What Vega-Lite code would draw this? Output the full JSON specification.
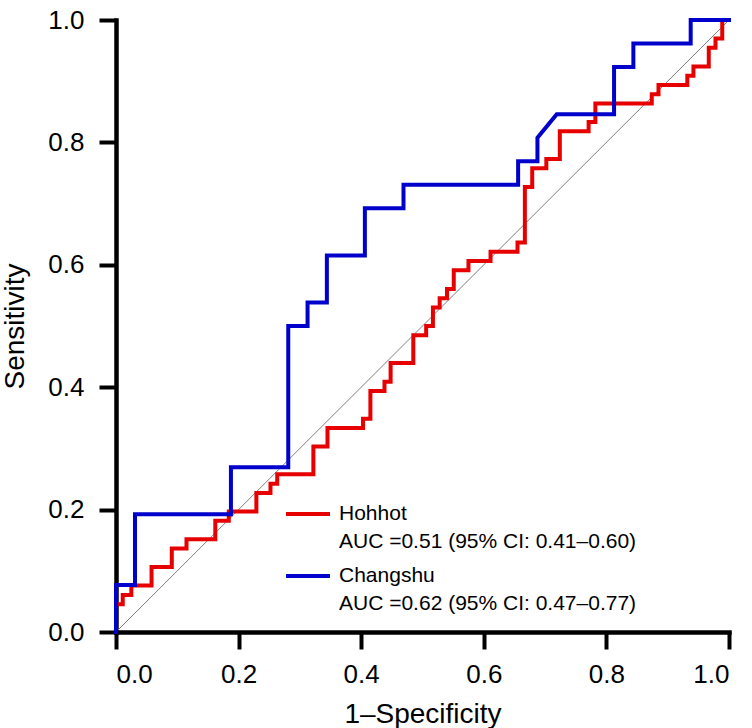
{
  "$schema": "https://vega.github.io/schema/vega-lite/v6.json",
  "width": 613,
  "height": 612,
  "autosize": "none",
  "padding": {"left": 116, "top": 20, "right": 23, "bottom": 96},
  "background": "white",
  "config": {
    "view": {"stroke": null},
    "font": "Liberation Sans",
    "axis": {
      "grid": false,
      "domainColor": "black",
      "domainWidth": 4.5,
      "domainCap": "square",
      "tickColor": "black",
      "tickWidth": 4,
      "tickSize": 17,
      "labelColor": "black",
      "labelFontSize": 26,
      "titleColor": "black",
      "titleFontSize": 28,
      "titleFontWeight": "normal"
    }
  },
  "datasets": {
    "roc": [
      {"group": "Hohhot", "i": 1, "x": 0, "y": 0},
      {"group": "Hohhot", "i": 2, "x": 0, "y": 0.0455},
      {"group": "Hohhot", "i": 3, "x": 0.011, "y": 0.0455},
      {"group": "Hohhot", "i": 4, "x": 0.011, "y": 0.0606},
      {"group": "Hohhot", "i": 5, "x": 0.025, "y": 0.0606},
      {"group": "Hohhot", "i": 6, "x": 0.025, "y": 0.0758},
      {"group": "Hohhot", "i": 7, "x": 0.058, "y": 0.0758},
      {"group": "Hohhot", "i": 8, "x": 0.058, "y": 0.1061},
      {"group": "Hohhot", "i": 9, "x": 0.091, "y": 0.1061},
      {"group": "Hohhot", "i": 10, "x": 0.091, "y": 0.1364},
      {"group": "Hohhot", "i": 11, "x": 0.115, "y": 0.1364},
      {"group": "Hohhot", "i": 12, "x": 0.115, "y": 0.1515},
      {"group": "Hohhot", "i": 13, "x": 0.162, "y": 0.1515},
      {"group": "Hohhot", "i": 14, "x": 0.162, "y": 0.1818},
      {"group": "Hohhot", "i": 15, "x": 0.184, "y": 0.1818},
      {"group": "Hohhot", "i": 16, "x": 0.184, "y": 0.197},
      {"group": "Hohhot", "i": 17, "x": 0.229, "y": 0.197},
      {"group": "Hohhot", "i": 18, "x": 0.229, "y": 0.2273},
      {"group": "Hohhot", "i": 19, "x": 0.252, "y": 0.2273},
      {"group": "Hohhot", "i": 20, "x": 0.252, "y": 0.2424},
      {"group": "Hohhot", "i": 21, "x": 0.263, "y": 0.2424},
      {"group": "Hohhot", "i": 22, "x": 0.263, "y": 0.2576},
      {"group": "Hohhot", "i": 23, "x": 0.322, "y": 0.2576},
      {"group": "Hohhot", "i": 24, "x": 0.322, "y": 0.303},
      {"group": "Hohhot", "i": 25, "x": 0.345, "y": 0.303},
      {"group": "Hohhot", "i": 26, "x": 0.345, "y": 0.3333},
      {"group": "Hohhot", "i": 27, "x": 0.403, "y": 0.3333},
      {"group": "Hohhot", "i": 28, "x": 0.403, "y": 0.3485},
      {"group": "Hohhot", "i": 29, "x": 0.415, "y": 0.3485},
      {"group": "Hohhot", "i": 30, "x": 0.415, "y": 0.3939},
      {"group": "Hohhot", "i": 31, "x": 0.438, "y": 0.3939},
      {"group": "Hohhot", "i": 32, "x": 0.438, "y": 0.4091},
      {"group": "Hohhot", "i": 33, "x": 0.448, "y": 0.4091},
      {"group": "Hohhot", "i": 34, "x": 0.448, "y": 0.4394},
      {"group": "Hohhot", "i": 35, "x": 0.485, "y": 0.4394},
      {"group": "Hohhot", "i": 36, "x": 0.485, "y": 0.4848},
      {"group": "Hohhot", "i": 37, "x": 0.506, "y": 0.4848},
      {"group": "Hohhot", "i": 38, "x": 0.506, "y": 0.5},
      {"group": "Hohhot", "i": 39, "x": 0.517, "y": 0.5},
      {"group": "Hohhot", "i": 40, "x": 0.517, "y": 0.5303},
      {"group": "Hohhot", "i": 41, "x": 0.528, "y": 0.5303},
      {"group": "Hohhot", "i": 42, "x": 0.528, "y": 0.5455},
      {"group": "Hohhot", "i": 43, "x": 0.54, "y": 0.5455},
      {"group": "Hohhot", "i": 44, "x": 0.54, "y": 0.5606},
      {"group": "Hohhot", "i": 45, "x": 0.551, "y": 0.5606},
      {"group": "Hohhot", "i": 46, "x": 0.551, "y": 0.5909},
      {"group": "Hohhot", "i": 47, "x": 0.575, "y": 0.5909},
      {"group": "Hohhot", "i": 48, "x": 0.575, "y": 0.6061},
      {"group": "Hohhot", "i": 49, "x": 0.611, "y": 0.6061},
      {"group": "Hohhot", "i": 50, "x": 0.611, "y": 0.6212},
      {"group": "Hohhot", "i": 51, "x": 0.655, "y": 0.6212},
      {"group": "Hohhot", "i": 52, "x": 0.655, "y": 0.6364},
      {"group": "Hohhot", "i": 53, "x": 0.667, "y": 0.6364},
      {"group": "Hohhot", "i": 54, "x": 0.667, "y": 0.7273},
      {"group": "Hohhot", "i": 55, "x": 0.679, "y": 0.7273},
      {"group": "Hohhot", "i": 56, "x": 0.679, "y": 0.7576},
      {"group": "Hohhot", "i": 57, "x": 0.702, "y": 0.7576},
      {"group": "Hohhot", "i": 58, "x": 0.702, "y": 0.7727},
      {"group": "Hohhot", "i": 59, "x": 0.724, "y": 0.7727},
      {"group": "Hohhot", "i": 60, "x": 0.724, "y": 0.8182},
      {"group": "Hohhot", "i": 61, "x": 0.771, "y": 0.8182},
      {"group": "Hohhot", "i": 62, "x": 0.771, "y": 0.8333},
      {"group": "Hohhot", "i": 63, "x": 0.782, "y": 0.8333},
      {"group": "Hohhot", "i": 64, "x": 0.782, "y": 0.8636},
      {"group": "Hohhot", "i": 65, "x": 0.874, "y": 0.8636},
      {"group": "Hohhot", "i": 66, "x": 0.874, "y": 0.8788},
      {"group": "Hohhot", "i": 67, "x": 0.885, "y": 0.8788},
      {"group": "Hohhot", "i": 68, "x": 0.885, "y": 0.8939},
      {"group": "Hohhot", "i": 69, "x": 0.932, "y": 0.8939},
      {"group": "Hohhot", "i": 70, "x": 0.932, "y": 0.9091},
      {"group": "Hohhot", "i": 71, "x": 0.942, "y": 0.9091},
      {"group": "Hohhot", "i": 72, "x": 0.942, "y": 0.9242},
      {"group": "Hohhot", "i": 73, "x": 0.967, "y": 0.9242},
      {"group": "Hohhot", "i": 74, "x": 0.967, "y": 0.9545},
      {"group": "Hohhot", "i": 75, "x": 0.978, "y": 0.9545},
      {"group": "Hohhot", "i": 76, "x": 0.978, "y": 0.9697},
      {"group": "Hohhot", "i": 77, "x": 0.989, "y": 0.9697},
      {"group": "Hohhot", "i": 78, "x": 0.989, "y": 1},
      {"group": "Hohhot", "i": 79, "x": 1, "y": 1},
      {"group": "Changshu", "i": 1, "x": 0, "y": 0},
      {"group": "Changshu", "i": 2, "x": 0, "y": 0.0769},
      {"group": "Changshu", "i": 3, "x": 0.031, "y": 0.0769},
      {"group": "Changshu", "i": 4, "x": 0.031, "y": 0.1923},
      {"group": "Changshu", "i": 5, "x": 0.1875, "y": 0.1923},
      {"group": "Changshu", "i": 6, "x": 0.1875, "y": 0.2692},
      {"group": "Changshu", "i": 7, "x": 0.281, "y": 0.2692},
      {"group": "Changshu", "i": 8, "x": 0.281, "y": 0.5},
      {"group": "Changshu", "i": 9, "x": 0.3125, "y": 0.5},
      {"group": "Changshu", "i": 10, "x": 0.3125, "y": 0.5385},
      {"group": "Changshu", "i": 11, "x": 0.344, "y": 0.5385},
      {"group": "Changshu", "i": 12, "x": 0.344, "y": 0.6154},
      {"group": "Changshu", "i": 13, "x": 0.406, "y": 0.6154},
      {"group": "Changshu", "i": 14, "x": 0.406, "y": 0.6923},
      {"group": "Changshu", "i": 15, "x": 0.469, "y": 0.6923},
      {"group": "Changshu", "i": 16, "x": 0.469, "y": 0.7308},
      {"group": "Changshu", "i": 17, "x": 0.656, "y": 0.7308},
      {"group": "Changshu", "i": 18, "x": 0.656, "y": 0.7692},
      {"group": "Changshu", "i": 19, "x": 0.6875, "y": 0.7692},
      {"group": "Changshu", "i": 20, "x": 0.6875, "y": 0.8077},
      {"group": "Changshu", "i": 21, "x": 0.719, "y": 0.8462},
      {"group": "Changshu", "i": 22, "x": 0.8125, "y": 0.8462},
      {"group": "Changshu", "i": 23, "x": 0.8125, "y": 0.9231},
      {"group": "Changshu", "i": 24, "x": 0.844, "y": 0.9231},
      {"group": "Changshu", "i": 25, "x": 0.844, "y": 0.9615},
      {"group": "Changshu", "i": 26, "x": 0.9375, "y": 0.9615},
      {"group": "Changshu", "i": 27, "x": 0.9375, "y": 1},
      {"group": "Changshu", "i": 28, "x": 1, "y": 1}
    ]
  },
  "encoding": {
    "x": {
      "field": "x",
      "type": "quantitative",
      "scale": {"domain": [0, 1], "nice": false},
      "axis": {
        "title": "1–Specificity",
        "values": [0, 0.2, 0.4, 0.6, 0.8, 1],
        "format": ".1f",
        "labelPadding": 12,
        "titlePadding": 13
      }
    },
    "y": {
      "field": "y",
      "type": "quantitative",
      "scale": {"domain": [0, 1], "nice": false},
      "axis": {
        "title": "Sensitivity",
        "values": [0, 0.2, 0.4, 0.6, 0.8, 1],
        "format": ".1f",
        "labelPadding": 15,
        "titlePadding": 18
      }
    }
  },
  "layer": [
    {
      "data": {"values": [{"x": 0, "y": 0, "x2": 1, "y2": 1}]},
      "mark": {"type": "rule", "color": "#7f7f7f", "strokeWidth": 1},
      "encoding": {
        "x2": {"field": "x2"},
        "y2": {"field": "y2"}
      }
    },
    {
      "data": {"name": "roc"},
      "mark": {"type": "line", "strokeWidth": 4, "strokeJoin": "miter", "strokeCap": "square"},
      "encoding": {
        "order": {"field": "i", "type": "quantitative"},
        "color": {
          "field": "group",
          "type": "nominal",
          "scale": {"domain": ["Hohhot", "Changshu"], "range": ["#e60000", "#0000cc"]},
          "legend": {
            "title": null,
            "orient": "none",
            "legendX": 168,
            "legendY": 470,
            "padding": 0,
            "symbolType": "stroke",
            "symbolSize": 1936,
            "symbolStrokeWidth": 4,
            "labelFontSize": 21,
            "labelColor": "black",
            "labelLimit": 0,
            "labelOffset": 7,
            "labelBaseline": "middle",
            "rowPadding": 0,
            "labelExpr": "datum.label == 'Hohhot' ? ['Hohhot', 'AUC =0.51 (95% CI: 0.41–0.60)'] : ['Changshu', 'AUC =0.62 (95% CI: 0.47–0.77)']",
            "encoding": {"labels": {"lineHeight": {"value": 28}}}
          }
        }
      }
    }
  ]
}
